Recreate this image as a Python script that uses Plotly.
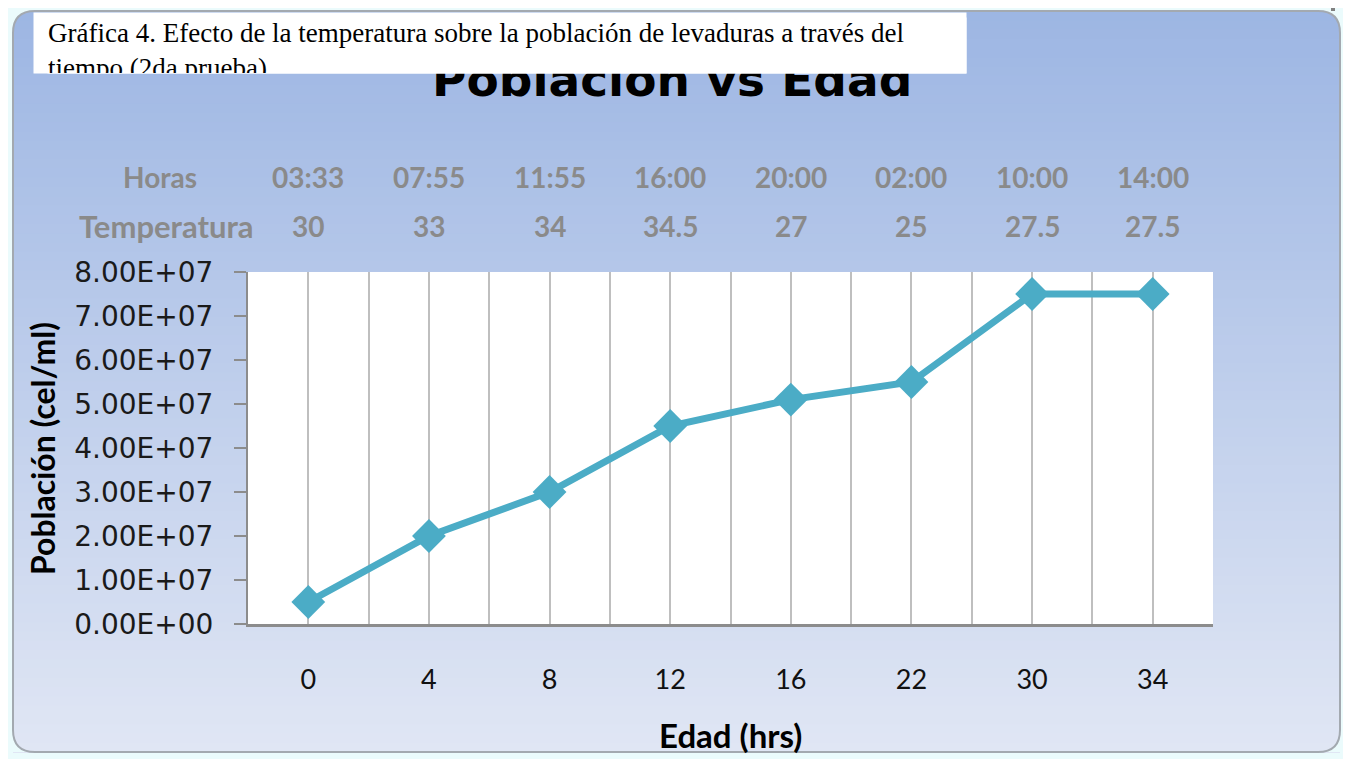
import plotly.graph_objects as go

# data
edad = ["0", "4", "8", "12", "16", "22", "30", "34"]
poblacion = [5.0e6, 2.0e7, 3.0e7, 4.5e7, 5.1e7, 5.5e7, 7.5e7, 7.5e7]
horas = ["03:33", "07:55", "11:55", "16:00", "20:00", "02:00", "10:00", "14:00"]
temperatura = ["30", "33", "34", "34.5", "27", "25", "27.5", "27.5"]
y_ticks = [0, 1e7, 2e7, 3e7, 4e7, 5e7, 6e7, 7e7, 8e7]

# the page puts the figure 8px in from the top-left corner
OFF = 8
W_FIG, H_FIG = 1351 - OFF, 759 - OFF
# plot area, in pixels of the whole page
L, R, T, B = 248, 1213, 272, 624


def px(x):
    return (x - L) / (R - L)


def py(y):
    return (B - y) / (B - T)


pos = list(range(len(edad)))

fig = go.Figure()
fig.add_trace(go.Scatter(
    x=pos, y=poblacion, mode="lines+markers",
    line=dict(color="#4bacc6", width=7),
    marker=dict(symbol="diamond", size=26, color="#4bacc6"),
    cliponaxis=False, showlegend=False,
))

# chart area background: vertical gradient + rounded border
shapes = []
x0, y0, x1, y1, r = 13, 11, 1340, 752, 22
top_c = (157, 182, 227)
bot_c = (224, 230, 244)
n = 80
step = (y1 - y0) / n
for i in range(n):
    t = i / (n - 1)
    c = tuple(round(a + (b - a) * t) for a, b in zip(top_c, bot_c))
    shapes.append(dict(
        type="rect", xref="paper", yref="paper", layer="below",
        x0=px(x0), x1=px(x1), y0=py(y0 + i * step), y1=py(y0 + (i + 1) * step + 1),
        fillcolor="rgb(%d,%d,%d)" % c, line=dict(width=0),
    ))

outer = "#ebfbfc"


def pt(x, y):
    return "%.5f,%.5f" % (px(x), py(y))


corners = [
    "M %s L %s Q %s %s Z" % (pt(x0, y0), pt(x0 + r, y0), pt(x0, y0), pt(x0, y0 + r)),
    "M %s L %s Q %s %s Z" % (pt(x1, y0), pt(x1 - r, y0), pt(x1, y0), pt(x1, y0 + r)),
    "M %s L %s Q %s %s Z" % (pt(x0, y1), pt(x0 + r, y1), pt(x0, y1), pt(x0, y1 - r)),
    "M %s L %s Q %s %s Z" % (pt(x1, y1), pt(x1 - r, y1), pt(x1, y1), pt(x1, y1 - r)),
]
for p in corners:
    shapes.append(dict(type="path", xref="paper", yref="paper", layer="below",
                       path=p, fillcolor=outer, line=dict(width=0)))

border = ("M %s L %s Q %s %s L %s Q %s %s L %s Q %s %s L %s Q %s %s Z" % (
    pt(x0 + r, y0), pt(x1 - r, y0), pt(x1, y0), pt(x1, y0 + r),
    pt(x1, y1 - r), pt(x1, y1), pt(x1 - r, y1),
    pt(x0 + r, y1), pt(x0, y1), pt(x0, y1 - r),
    pt(x0, y0 + r), pt(x0, y0), pt(x0 + r, y0)))
shapes.append(dict(type="path", xref="paper", yref="paper", layer="below",
                   path=border, line=dict(color="#a3a9b0", width=2)))

# white plot area
shapes.append(dict(type="rect", xref="paper", yref="paper", layer="below",
                   x0=0, x1=1, y0=0, y1=1, fillcolor="white", line=dict(width=0)))

# little selection handles of the chart object
for hx, hy in [(1333, 9), (1345, 9), (1345, 16),
               (1346, 376), (1346, 384), (1346, 392), (1346, 750)]:
    shapes.append(dict(type="rect", xref="paper", yref="paper", layer="below",
                       x0=px(hx - 2), x1=px(hx + 2), y0=py(hy - 2), y1=py(hy + 2),
                       fillcolor="#808080", line=dict(width=0)))

annotations = []
# chart title (partly hidden under the caption box)
annotations.append(dict(
    text="Población vs Edad", xref="paper", yref="paper",
    x=px(672), y=py(79), xanchor="center", yanchor="middle", showarrow=False,
    font=dict(family="DejaVu Sans", size=47, color="black", weight="bold"),
))
# caption box on top: white box, then clipped two-line text
annotations.append(dict(
    text=" ", xref="paper", yref="paper", x=px(33), y=py(12),
    xanchor="left", yanchor="top", showarrow=False,
    width=932, height=60, borderpad=0, bgcolor="white",
))
annotations.append(dict(
    text="Gráfica 4. Efecto de la temperatura sobre la población de levaduras a través del<br>tiempo (2da prueba)",
    xref="paper", yref="paper", x=px(47), y=py(17), xanchor="left", yanchor="top",
    showarrow=False, align="left", valign="top",
    width=918, height=55, borderpad=0, bgcolor="white",
    font=dict(family="Liberation Serif", size=27, color="black"),
))

head_font = dict(family="Lato", size=28, color="#8a8a8a", weight="bold")
annotations.append(dict(text="Horas", xref="paper", yref="paper", x=px(160), y=py(177),
                        xanchor="center", yanchor="middle", showarrow=False, font=head_font))
annotations.append(dict(text="Temperatura", xref="paper", yref="paper", x=px(166), y=py(226),
                        xanchor="center", yanchor="middle", showarrow=False,
                        font=dict(family="Lato", size=31, color="#8a8a8a", weight="bold")))
for i, (h, tp) in enumerate(zip(horas, temperatura)):
    annotations.append(dict(text=h, xref="x", yref="paper", x=pos[i], y=py(177),
                            xanchor="center", yanchor="middle", showarrow=False, font=head_font))
    annotations.append(dict(text=tp, xref="x", yref="paper", x=pos[i], y=py(226),
                            xanchor="center", yanchor="middle", showarrow=False, font=head_font))

# axis titles
annotations.append(dict(text="Población (cel/ml)", xref="paper", yref="paper",
                        x=px(42), y=py(449), textangle=-90, showarrow=False,
                        xanchor="center", yanchor="middle",
                        font=dict(family="Lato", size=32, color="black", weight="bold")))
annotations.append(dict(text="Edad (hrs)", xref="paper", yref="paper",
                        x=px(730), y=py(735), showarrow=False,
                        xanchor="center", yanchor="middle",
                        font=dict(family="Lato", size=33, color="black", weight="bold")))

fig.update_layout(
    width=W_FIG, height=H_FIG,
    margin=dict(l=L - OFF, r=1351 - R, t=T - OFF, b=759 - B),
    paper_bgcolor=outer, plot_bgcolor="white",
    shapes=shapes, annotations=annotations,
)
fig.update_xaxes(
    range=[-0.5, len(edad) - 0.5], tickmode="array", tickvals=pos, ticktext=edad,
    showgrid=True, gridcolor="#bfbfbf", gridwidth=2,
    minor=dict(tickmode="array", tickvals=[p + 0.5 for p in pos], showgrid=True,
               gridcolor="#bfbfbf", gridwidth=2),
    showline=True, linecolor="#8c8c8c", linewidth=3, ticks="", zeroline=False,
    ticklabelstandoff=30, tickfont=dict(family="Lato", size=27, color="#111111"),
)
fig.update_yaxes(
    range=[0, 8e7], tickmode="array", tickvals=y_ticks,
    ticktext=["%.2E" % v for v in y_ticks],
    showgrid=False, zeroline=False,
    showline=True, linecolor="#8c8c8c", linewidth=2,
    ticks="outside", ticklen=12, tickcolor="#8c8c8c", tickwidth=2,
    ticklabelstandoff=15, tickfont=dict(family="DejaVu Sans", size=28, color="#1a1a1a"),
)

fig.write_html("out.html")
